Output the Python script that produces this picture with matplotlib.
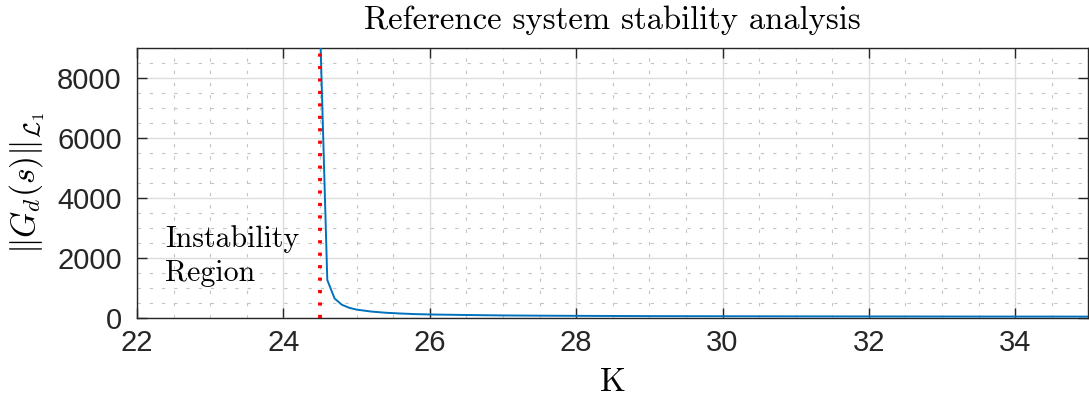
import matplotlib
matplotlib.use("Agg")
import matplotlib.pyplot as plt
from matplotlib.ticker import MultipleLocator

plt.rcParams['mathtext.fontset'] = 'cm'

# Data
K = [24.5, 24.6, 24.7, 24.8, 24.9, 25.0, 25.2, 25.4, 25.6, 25.8, 26.0,
     26.5, 27.0, 27.5, 28.0, 29.0, 30.0, 31.0, 32.0, 33.0, 34.0, 35.0]
norm_L1 = [9800, 1267, 650, 440, 340, 280, 215, 175, 150, 130, 118,
           100, 86, 78, 72, 63, 59, 55, 52, 50, 48, 47]
K_limit = 24.5
x_ticks = [22, 24, 26, 28, 30, 32, 34]
y_ticks = [0, 2000, 4000, 6000, 8000]

fig = plt.figure(figsize=(10.89, 4.05), dpi=100)
ax = fig.add_axes([0.1258, 0.2148, 0.8737, 0.6667])

ax.plot(K, norm_L1, color='#0072BD', lw=1.4, zorder=3)
ax.axvline(K_limit, color='red', lw=2.8, linestyle=(0, (0.8, 2.4)), zorder=4)

ax.set_xlim(22, 35)
ax.set_ylim(0, 9000)
ax.set_xticks(x_ticks)
ax.set_yticks(y_ticks)
ax.xaxis.set_minor_locator(MultipleLocator(0.5))
ax.yaxis.set_minor_locator(MultipleLocator(500))

ax.grid(which='major', color='#dcdcdc', lw=1.0, zorder=0)
ax.grid(which='minor', color='#c4c4c4', lw=0.8, linestyle=(0, (3, 8)), zorder=0)
ax.set_axisbelow(True)

ax.tick_params(which='major', direction='in', length=7, width=1,
               top=True, right=True, color='#262626',
               labelsize=21, labelcolor='#262626', pad=8)
ax.tick_params(axis='y', which='major', pad=11)
ax.tick_params(which='minor', length=0)
for lab in ax.get_xticklabels() + ax.get_yticklabels():
    lab.set_fontfamily('Liberation Sans')
for sp in ax.spines.values():
    sp.set_color('#262626')
    sp.set_linewidth(1.0)

ax.set_title('Reference system stability analysis', fontfamily='cmr10',
             fontsize=23.5, pad=14)
ax.set_xlabel('K', fontfamily='cmr10', fontsize=24, labelpad=8)
ax.set_ylabel(r'$\|G_d(s)\|_{\mathcal{L}_1}$', fontsize=24, labelpad=7)

ax.text(22.38, 1050, 'Instability\nRegion', fontfamily='cmr10', fontsize=21.5,
        linespacing=1.3, va='bottom', ha='left')

fig.savefig('out.png', dpi=100)
